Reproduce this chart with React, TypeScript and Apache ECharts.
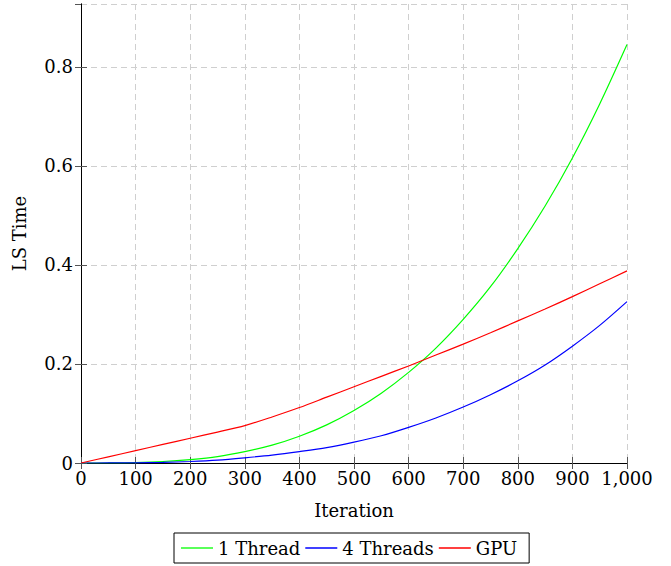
import React, { useEffect, useRef } from "react";
import * as echarts from "echarts";

const iterations = [0, 50, 100, 150, 200, 250, 300, 350, 400, 450, 500, 550, 600, 650, 700, 750, 800, 850, 900, 950, 1000];
const oneThread = [0, 0.0001, 0.0008, 0.003, 0.007, 0.013, 0.023, 0.036, 0.054, 0.077, 0.106, 0.141, 0.183, 0.232, 0.29, 0.356, 0.433, 0.519, 0.616, 0.725, 0.845];
const fourThreads = [0, 0.0001, 0.0004, 0.0012, 0.003, 0.0058, 0.0105, 0.016, 0.023, 0.031, 0.042, 0.055, 0.072, 0.091, 0.113, 0.138, 0.166, 0.198, 0.236, 0.278, 0.326];
const gpu = [0, 0.0125, 0.025, 0.0375, 0.05, 0.0625, 0.0755, 0.093, 0.112, 0.133, 0.154, 0.175, 0.196, 0.218, 0.24, 0.263, 0.287, 0.311, 0.336, 0.362, 0.388];
const seriesNames = ["1 Thread", "4 Threads", "GPU"];
const seriesColors = ["#00ff00", "#0000ff", "#ff0000"];

const FONT = "DejaVu Serif";
const FS = 18;

export default function App() {
  const ref = useRef<HTMLDivElement>(null);
  useEffect(() => {
    if (!ref.current) return;
    const chart = echarts.init(ref.current, null, { renderer: "svg" });
    const all = [oneThread, fourThreads, gpu];
    const tickStyle = { show: true, inside: true, length: 6, lineStyle: { color: "#555", width: 1 } };
    const lineStyle = { show: true, lineStyle: { color: "#000", width: 1 } };
    chart.setOption({
      animation: false,
      backgroundColor: "#fff",
      textStyle: { fontFamily: FONT },
      grid: { left: 81, top: 4, width: 546, height: 459, containLabel: false },
      xAxis: [
        {
          type: "value",
          min: 0,
          max: 1000,
          interval: 100,
          position: "bottom",
          name: "Iteration",
          nameLocation: "middle",
          nameGap: 38,
          nameTextStyle: { fontFamily: FONT, fontSize: FS, color: "#000" },
          axisLine: lineStyle,
          axisTick: tickStyle,
          axisLabel: {
            fontFamily: FONT,
            fontSize: FS,
            color: "#000",
            margin: 6,
            formatter: (v: number) => (v >= 1000 ? v.toLocaleString("en-US") : String(v)),
          },
          splitLine: { show: true, lineStyle: { color: "#cfcfcf", type: [6, 4], width: 1 } },
        },
        {
          type: "value",
          min: 0,
          max: 1000,
          interval: 100,
          position: "top",
          axisLine: lineStyle,
          axisTick: tickStyle,
          axisLabel: { show: false },
          splitLine: { show: false },
        },
      ],
      yAxis: [
        {
          type: "value",
          min: 0,
          max: 0.927,
          interval: 0.2,
          position: "left",
          name: "LS Time",
          nameLocation: "middle",
          nameGap: 53,
          nameTextStyle: { fontFamily: FONT, fontSize: FS, color: "#000" },
          axisLine: lineStyle,
          axisTick: tickStyle,
          axisLabel: { fontFamily: FONT, fontSize: FS, color: "#000", margin: 8, showMaxLabel: false },
          splitLine: { show: true, lineStyle: { color: "#cfcfcf", type: [6, 4], width: 1 } },
        },
        {
          type: "value",
          min: 0,
          max: 0.927,
          interval: 0.2,
          position: "right",
          axisLine: lineStyle,
          axisTick: tickStyle,
          axisLabel: { show: false },
          splitLine: { show: false },
        },
      ],
      legend: {
        left: 174,
        top: 533,
        orient: "horizontal",
        padding: [6, 12, 6, 7],
        itemGap: 5,
        itemWidth: 32,
        itemHeight: 1.3,
        icon: "rect",
        borderColor: "#000",
        borderWidth: 1,
        borderRadius: 0,
        textStyle: { fontFamily: FONT, fontSize: FS, color: "#000" },
        data: seriesNames,
      },
      series: seriesNames.map((name, i) => ({
        name,
        type: "line",
        xAxisIndex: 0,
        yAxisIndex: 0,
        symbol: "none",
        smooth: 0.3,
        color: seriesColors[i],
        lineStyle: { color: seriesColors[i], width: 1.2 },
        data: iterations.map((x, j) => [x, all[i][j]]),
      })),
    });
    return () => chart.dispose();
  }, []);
  return <div ref={ref} style={{ position: "absolute", left: 0, top: 0, width: 671, height: 566 }} />;
}
